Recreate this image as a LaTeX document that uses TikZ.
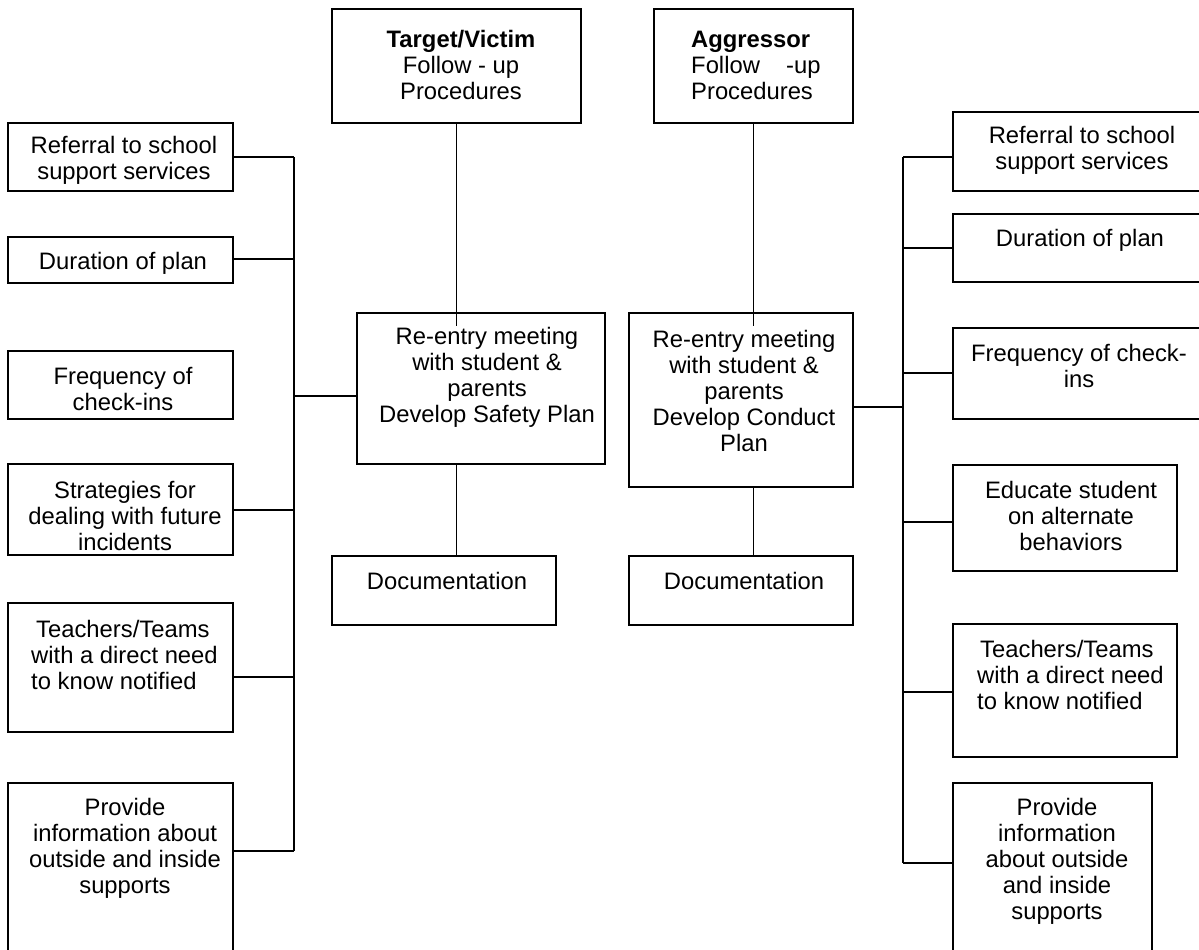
\documentclass[tikz,border=0pt]{standalone}
\usepackage{fontspec}
\setmainfont{Liberation Sans}
\usetikzlibrary{fit,calc}
\newcommand\fsz{\fontsize{23.8}{26}\selectfont}
\begin{document}
\begin{tikzpicture}[x=1pt,y=-1pt,
  box/.style={draw=black,line width=1.6pt,inner sep=0pt,rectangle},
  txt/.style={inner sep=0pt,align=center,font=\fsz},
  ltxt/.style={inner sep=0pt,align=left,font=\fsz,anchor=west},
  conn/.style={draw=black,line width=1.5pt},
  bus/.style={draw=black,line width=1.7pt},
  thickconn/.style={draw=black,line width=2.4pt}]
\useasboundingbox (0,0) rectangle (1199,950);
\fill[white] (0,0) rectangle (1199,950);
\clip (0,0) rectangle (1199,950);

% ---- top boxes ----
\node[box,fit={(332,9) (581,123)}] (TV) {};
\node[txt] (TVt) at (461,65) {\textbf{Target/Victim}\\Follow - up\\Procedures};
\node[box,fit={(654,9) (853,123)}] (AG) {};
\node[ltxt] (AGt) at (691,65) {\textbf{Aggressor}\\Follow\hspace{1.1em}-up\\Procedures};

% ---- centre boxes ----
\node[box,fit={(357,313) (605,464)}] (C1) {};
\node[txt] (C1t) at (487,377) {Re-entry meeting\\with student \&\\parents\\Develop Safety Plan};
\node[box,fit={(629,313) (853,487)}] (C2) {};
\node[txt] (C2t) at (744,391) {Re-entry meeting\\with student \&\\parents\\Develop Conduct\\Plan};
\node[box,fit={(332,556) (556,625)}] (D1) {};
\node[txt] (D1t) at (447,581) {Documentation};
\node[box,fit={(629,556) (853,625)}] (D2) {};
\node[txt] (D2t) at (744,581) {Documentation};

% ---- left column ----
\node[box,fit={(8,123) (233,191)}] (L1) {};
\node[txt] (L1t) at (124,160) {Referral to school\\support services};
\node[box,fit={(8,237) (233,283)}] (L2) {};
\node[txt] (L2t) at (123,263) {Duration of plan};
\node[box,fit={(8,351) (233,419)}] (L3) {};
\node[txt] (L3t) at (123,389) {Frequency of\\check-ins};
\node[box,fit={(8,464) (233,555)}] (L4) {};
\node[txt] (L4t) at (125,516) {Strategies for\\dealing with future\\incidents};
\node[box,fit={(8,603) (233,732)}] (L5) {};
\node[ltxt] (L5t) at (31,655) {\hspace*{5pt}Teachers/Teams\\with a direct need\\to know notified};
\node[box,fit={(8,783) (233,990)}] (L6) {};
\node[txt] (L6t) at (125,848) {Provide\\information about\\outside and inside\\supports};

% ---- right column ----
\node[box,fit={(953,112) (1215,191)}] (R1) {};
\node[txt] (R1t) at (1082,150) {Referral to school\\support services};
\node[box,fit={(953,214) (1215,282)}] (R2) {};
\node[txt] (R2t) at (1080,240) {Duration of plan};
\node[box,fit={(953,328) (1215,419)}] (R3) {};
\node[txt] (R3t) at (1079,366) {Frequency of check-\\ins};
\node[box,fit={(953,465) (1177,571)}] (R4) {};
\node[txt] (R4t) at (1071,516) {Educate student\\on alternate\\behaviors};
\node[box,fit={(953,624) (1177,757)}] (R5) {};
\node[ltxt] (R5t) at (977,675) {\hspace*{3pt}Teachers/Teams\\with a direct need\\to know notified};
\node[box,fit={(953,783) (1152,990)}] (R6) {};
\node[txt] (R6t) at (1057,861) {Provide\\information\\about outside\\and inside\\supports};

% ---- left bus ----
\coordinate (lb1) at (294,157);
\coordinate (lb2) at (294,259);
\coordinate (lbc) at (294,396);
\coordinate (lb4) at (294,510);
\coordinate (lb5) at (294,677);
\coordinate (lb6) at (294,851);
\draw[bus] (lb1) -- (lb6);
\draw[conn] (L1.east |- lb1) -- (lb1);
\draw[conn] (L2.east |- lb2) -- (lb2);
\draw[conn] (L4.east |- lb4) -- (lb4);
\draw[conn] (L5.east |- lb5) -- (lb5);
\draw[conn] (L6.east |- lb6) -- (lb6);
\draw[thickconn] (lbc) -- (lbc -| C1.west);

% ---- right bus ----
\coordinate (rb1) at (903,157);
\coordinate (rb2) at (903,248);
\coordinate (rb3) at (903,373);
\coordinate (rbc) at (903,407);
\coordinate (rb4) at (903,522);
\coordinate (rb5) at (903,692);
\coordinate (rb6) at (903,863);
\draw[bus] (rb1) -- (rb6);
\draw[conn] (R1.west |- rb1) -- (rb1);
\draw[conn] (R2.west |- rb2) -- (rb2);
\draw[conn] (R3.west |- rb3) -- (rb3);
\draw[conn] (R4.west |- rb4) -- (rb4);
\draw[conn] (R5.west |- rb5) -- (rb5);
\draw[conn] (R6.west |- rb6) -- (rb6);
\draw[thickconn] (rbc) -- (rbc -| C2.east);

% ---- vertical links ----
\draw[conn] (TV.south) -- ($(TV.south |- C1.north)+(0,14)$);
\draw[conn] (TV.south |- C1.south) -- (TV.south |- D1.north);
\draw[conn] (AG.south) -- ($(AG.south |- C2.north)+(0,14)$);
\draw[conn] (AG.south |- C2.south) -- (AG.south |- D2.north);
\end{tikzpicture}
\end{document}
